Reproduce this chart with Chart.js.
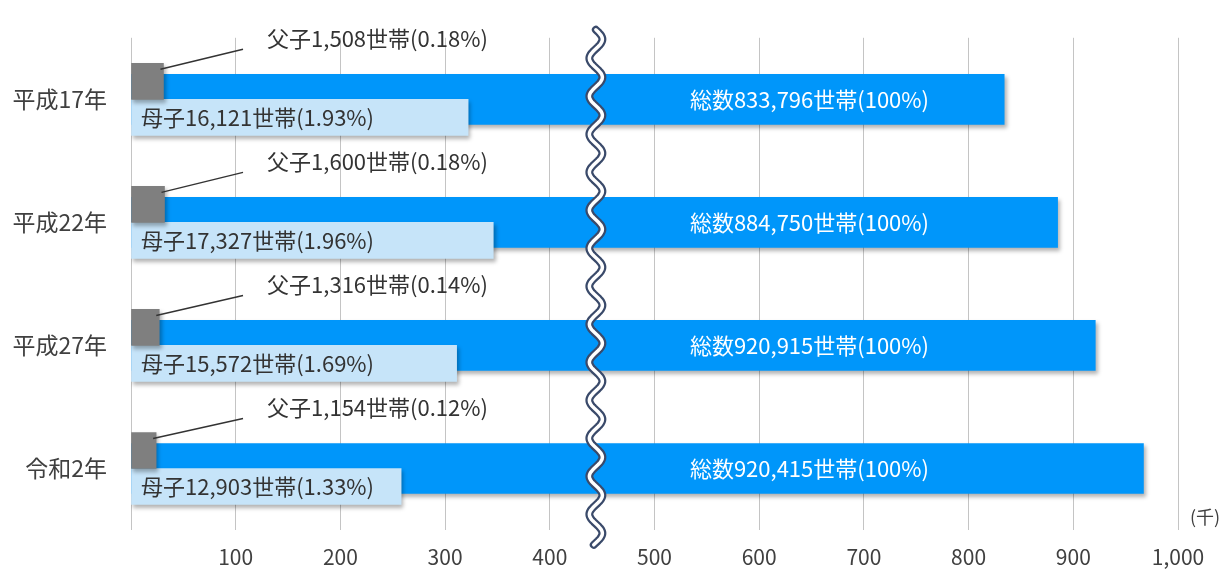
<!DOCTYPE html>
<html lang="ja">
<head>
<meta charset="utf-8">
<script src="https://cdn.jsdelivr.net/npm/chart.js@4"></script>
<style>
  html, body { margin: 0; padding: 0; background: #fff; }
  #wrap { width: 1227px; height: 572px; position: relative; }
</style>
</head>
<body>
<div id="wrap"><canvas id="householdChart"></canvas></div>
<script>
// 年次
const categories = ['平成17年', '平成22年', '平成27年', '令和2年'];
// 棒の長さ(千世帯、図から読み取り。母子・父子は拡大表示)
const totalBars = [834, 885, 921, 967];
const motherBars = [322, 346, 311, 258];
const fatherBars = [31, 32, 27, 24];
// ラベル
const totalLabels = ['総数833,796世帯(100%)', '総数884,750世帯(100%)', '総数920,915世帯(100%)', '総数920,415世帯(100%)'];
const motherLabels = ['母子16,121世帯(1.93%)', '母子17,327世帯(1.96%)', '母子15,572世帯(1.69%)', '母子12,903世帯(1.33%)'];
const fatherLabels = ['父子1,508世帯(0.18%)', '父子1,600世帯(0.18%)', '父子1,316世帯(0.14%)', '父子1,154世帯(0.12%)'];
// 横軸目盛
const xTicks = ['', '100', '200', '300', '400', '500', '600', '700', '800', '900', '1,000'];

const FONT = '"Noto Sans CJK JP", "Noto Sans", sans-serif';
const TEXT = '#404040';
Chart.defaults.font.family = FONT;

// 影・ラベル・省略線
const annotations = {
    id: 'annotations',
    beforeDatasetDraw(chart) {
        const ctx = chart.ctx;
        ctx.save();
        ctx.shadowColor = 'rgba(0, 0, 0, 0.3)';
        ctx.shadowBlur = 4;
        ctx.shadowOffsetX = 2;
        ctx.shadowOffsetY = 3;
    },
    afterDatasetDraw(chart) {
        chart.ctx.restore();
    },
    afterDatasetsDraw(chart) {
        const { ctx, chartArea, scales: { x } } = chart;
        const fatherMeta = chart.getDatasetMeta(0);
        const motherMeta = chart.getDatasetMeta(1);
        const totalMeta = chart.getDatasetMeta(2);
        ctx.save();
        ctx.textBaseline = 'middle';
        ctx.font = '22px ' + FONT;

        categories.forEach((c, i) => {
            const fb = fatherMeta.data[i];
            const mb = motherMeta.data[i];
            const tb = totalMeta.data[i];

            // 総数
            ctx.fillStyle = '#ffffff';
            ctx.textAlign = 'center';
            ctx.fillText(totalLabels[i], x.getPixelForValue(648), tb.y);

            // 母子
            ctx.fillStyle = '#333333';
            ctx.textAlign = 'left';
            ctx.fillText(motherLabels[i], x.getPixelForValue(0) + 10, mb.y);

            // 父子 + 引出線
            ctx.fillText(fatherLabels[i], x.getPixelForValue(130), fb.y - 43);
            ctx.strokeStyle = '#333333';
            ctx.lineWidth = 1.5;
            ctx.beginPath();
            ctx.moveTo(fb.x - 3, fb.y - 12);
            ctx.lineTo(x.getPixelForValue(107), fb.y - 32);
            ctx.stroke();
        });

        // 単位
        ctx.fillStyle = TEXT;
        ctx.font = '18px ' + FONT;
        ctx.textAlign = 'left';
        ctx.fillText('(千)', chartArea.right + 12, chartArea.bottom - 13);

        // 省略線(波線)
        const cx = x.getPixelForValue(444);
        const y0 = chartArea.top - 8;
        const y1 = chartArea.bottom + 15;
        const wave = () => {
            ctx.beginPath();
            for (let t = y0; t <= y1; t += 1) {
                const px = cx + 6.5 * Math.sin(2 * Math.PI * (t - y0) / 38);
                if (t === y0) ctx.moveTo(px, t); else ctx.lineTo(px, t);
            }
            ctx.stroke();
        };
        ctx.lineJoin = 'round';
        ctx.lineCap = 'round';
        ctx.strokeStyle = '#3a4a6a';
        ctx.lineWidth = 8;
        wave();
        ctx.strokeStyle = '#ffffff';
        ctx.lineWidth = 3.5;
        wave();
        ctx.restore();
    }
};

const chart = new Chart(document.getElementById('householdChart'), {
    type: 'bar',
    data: {
        labels: categories,
        datasets: [{
            label: '父子',
            data: fatherBars,
            backgroundColor: '#7f7f7f',
            barThickness: 36,
            order: 0
        }, {
            label: '母子',
            data: motherBars,
            backgroundColor: '#c6e4f9',
            barThickness: 36,
            order: 0
        }, {
            label: '総数',
            data: totalBars,
            backgroundColor: '#0096fa',
            barThickness: 50,
            grouped: false,
            order: 1
        }]
    },
    options: {
        indexAxis: 'y',
        responsive: true,
        maintainAspectRatio: false,
        animation: false,
        layout: { padding: { top: 29, right: 49 } },
        plugins: {
            legend: { display: false },
            tooltip: { enabled: false }
        },
        scales: {
            x: {
                min: 0,
                max: 1000,
                ticks: {
                    stepSize: 100,
                    color: TEXT,
                    font: { size: 21 },
                    padding: 14,
                    maxRotation: 0,
                    callback: (v, i) => xTicks[i]
                },
                grid: { color: '#c4c4c4', drawTicks: false },
                border: { display: false },
                afterFit: s => { s.height = 42; }
            },
            y: {
                ticks: { color: TEXT, font: { size: 23 }, padding: 24 },
                grid: { display: false, drawTicks: false },
                border: { display: false },
                afterFit: s => { s.width = 131; }
            }
        }
    },
    plugins: [annotations]
});
</script>
</body>
</html>
